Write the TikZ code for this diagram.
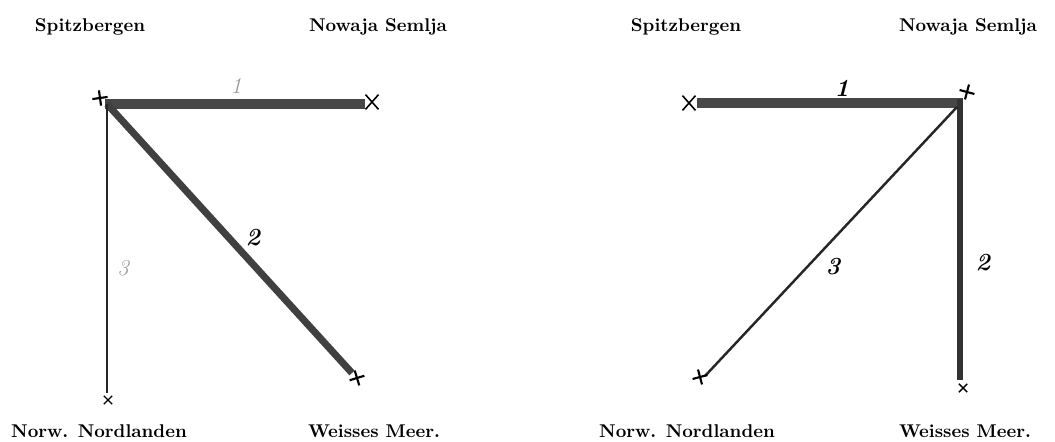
\documentclass[tikz,border=0pt]{standalone}
\usetikzlibrary{shapes.misc}

\tikzset{
    place/.style={font=\fontsize{10.5}{13}\selectfont\bfseries, inner sep=0pt},
    num/.style={font=\fontsize{14}{16}\selectfont\bfseries\itshape, inner sep=0pt},
    faintnum/.style={font=\fontsize{13}{15}\selectfont\itshape, text=black!40, inner sep=0pt},
    plusmark/.style={draw, cross out, line width=1.2pt, minimum size=5pt, inner sep=0pt},
    xmark/.style={draw, cross out, line width=0.9pt, minimum width=6.5pt, minimum height=7.5pt, inner sep=0pt},
    smallx/.style={draw, cross out, line width=0.8pt, minimum size=4pt, inner sep=0pt},
    heavy/.style={black!72, line width=6.2pt},
}

\begin{document}
\begin{tikzpicture}[x=0.02cm, y=-0.02cm]
    \useasboundingbox (0,0) rectangle (1055,442);

    % --- Left Diagram ---
    % place names
    \node[place] (lsp) at (90,27) {Spitzbergen};
    \node[place] (lns) at (378,27) {Nowaja Semlja};
    \node[place] (lnn) at (99,431) {Norw. Nordlanden};
    \node[place] (lwm) at (374,431) {Weisses Meer.};

    % corner points of the connections
    \coordinate (lA) at (105,104); % Spitzbergen, bar start
    \coordinate (lE) at (107,104); % Spitzbergen, corner
    \coordinate (lB) at (365,104); % Nowaja Semlja
    \coordinate (lC) at (352,373); % Weisses Meer
    \coordinate (lD) at (107,393); % Norw. Nordlanden

    \draw[heavy] (lA) -- (lB); % 1
    \draw[black!75, line width=4pt] (lE) -- (lC); % 2
    \draw[black!85, line width=0.9pt] (lE) -- (lD); % 3

    % marks at the stations
    \node[plusmark, rotate=53] (lmsp) at (100,98) {};
    \node[xmark] (lmns) at (372,102) {};
    \node[smallx] (lmnn) at (108,400) {};
    \node[plusmark, rotate=62] (lmwm) at (357,378) {};

    % numbers
    \node[faintnum] (l1) at (236,86) {1};
    \node[num] (l2) at (253,238) {2};
    \node[faintnum] (l3) at (123,268) {3};

    % --- Right Diagram ---
    % place names
    \node[place] (rsp) at (686,27) {Spitzbergen};
    \node[place] (rns) at (968,27) {Nowaja Semlja};
    \node[place] (rnn) at (687,431) {Norw. Nordlanden};
    \node[place] (rwm) at (965,431) {Weisses Meer.};

    % corner points of the connections
    \coordinate (rA) at (697,103); % Spitzbergen
    \coordinate (rB) at (963,103); % Nowaja Semlja, bar end
    \coordinate (rE) at (960,99);  % Nowaja Semlja, top of 2
    \coordinate (rF) at (957,107); % Nowaja Semlja, top of 3
    \coordinate (rC) at (960,380); % Weisses Meer
    \coordinate (rD) at (705,376); % Norw. Nordlanden

    \draw[heavy] (rA) -- (rB); % 1
    \draw[black!80, line width=3.4pt] (rE) -- (rC); % 2
    \draw[black!85, line width=1.4pt] (rF) -- (rD); % 3

    % marks at the stations
    \node[xmark] (rmsp) at (689,103) {};
    \node[plusmark, rotate=30] (rmns) at (967,92) {};
    \node[smallx] (rmwm) at (963,388) {};
    \node[plusmark, rotate=60] (rmnn) at (700,377) {};

    % numbers
    \node[num] (r1) at (842,88) {1};
    \node[num] (r2) at (983,263) {2};
    \node[num] (r3) at (833,267) {3};
\end{tikzpicture}
\end{document}
